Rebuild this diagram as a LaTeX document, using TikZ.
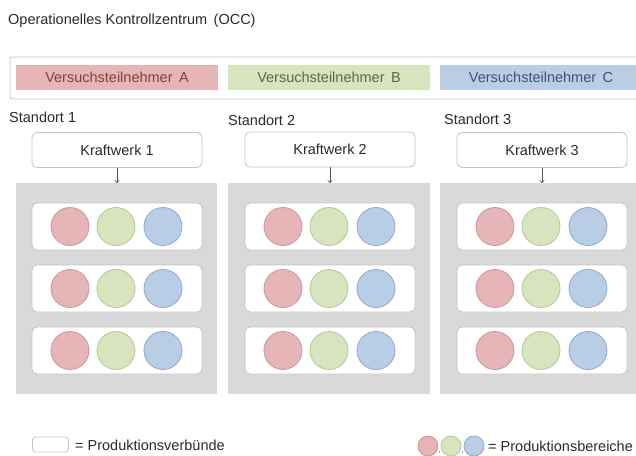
\documentclass[tikz,border=0pt]{standalone}
\usepackage{fontspec}
\setmainfont{Liberation Sans}
\usetikzlibrary{arrows.meta}
\definecolor{txt}{HTML}{2A2A2A}
\definecolor{boxgray}{HTML}{C4C4C4}
\definecolor{panelgray}{HTML}{D9D9D9}
\definecolor{redfill}{HTML}{E6B5B7}
\definecolor{redline}{HTML}{CE9597}
\definecolor{redtxt}{HTML}{84403F}
\definecolor{greenfill}{HTML}{D7E4BD}
\definecolor{greenline}{HTML}{B5C891}
\definecolor{greentxt}{HTML}{5A6946}
\definecolor{bluefill}{HTML}{B9CDE5}
\definecolor{blueline}{HTML}{8DA8D0}
\definecolor{bluetxt}{HTML}{3F5475}
\tikzset{
  lbl/.style={text=txt, inner sep=0pt, anchor=west},
  wbox/.style={draw=boxgray, fill=white, rounded corners=5pt, line width=0.8pt, text=txt, inner sep=0pt},
  occbox/.style={draw=boxgray, fill=white, line width=0.8pt, rounded corners=2pt, inner sep=0pt},
  bar/.style={minimum width=202pt, minimum height=25pt, inner sep=0pt},
  panel/.style={fill=panelgray, draw=none, inner sep=0pt, minimum height=211pt},
  rowbox/.style={wbox, minimum width=170pt, minimum height=47pt},
  kwbox/.style={wbox, minimum width=170pt, minimum height=35pt},
  circ/.style={circle, minimum size=38pt, inner sep=0pt, line width=0.8pt},
  circA/.style={circ, fill=redfill, draw=redline},
  circB/.style={circ, fill=greenfill, draw=greenline},
  circC/.style={circ, fill=bluefill, draw=blueline},
  arr/.style={draw=txt!80, line width=0.6pt, -{To[length=3pt,width=5pt]}},
}
\begin{document}
\begin{tikzpicture}[x=1pt,y=-1pt,font=\fontsize{14.5}{16}\selectfont]
\useasboundingbox (0,0) rectangle (636,455);
\clip (0,0) rectangle (636,455);
% title
\node[lbl] (title) at (8,21) {Operationelles Kontrollzentrum\, (OCC)};
% OCC box and bars
\node[occbox, minimum width=662pt, minimum height=42pt] (occ) at (341,78) {};
\node[bar, fill=redfill, text=redtxt] (vA) at (117,77.5) {Versuchsteilnehmer\, A};
\node[bar, fill=greenfill, text=greentxt] (vB) at (329,77.5) {Versuchsteilnehmer\, B};
\node[bar, fill=bluefill, text=bluetxt] (vC) at (541,77.5) {Versuchsteilnehmer\, C};
% Standort labels
\node[lbl] (s1) at (9,117) {Standort 1};
\node[lbl] (s2) at (228,120) {Standort 2};
\node[lbl] (s3) at (444,119) {Standort 3};
% Kraftwerke
\node[kwbox] (kw1) at (117,150) {Kraftwerk 1};
\node[kwbox] (kw2) at (330,149.5) {Kraftwerk 2};
\node[kwbox] (kw3) at (542,150) {Kraftwerk 3};
% panels
\node[panel, minimum width=201pt, anchor=north west] (p1) at (16,183) {};
\node[panel, minimum width=202pt, anchor=north west] (p2) at (228,183) {};
\node[panel, minimum width=204pt, anchor=north west] (p3) at (440,183) {};
% arrows
\draw[arr] (kw1.south) -- (kw1.south |- p1.north);
\draw[arr] (kw2.south) -- (kw2.south |- p2.north);
\draw[arr] (kw3.south) -- (kw3.south |- p3.north);
% rows and circles
\foreach \p/\px in {1/32,2/245,3/457} {
  \foreach \r/\ry in {1/226.5,2/288.5,3/350.5} {
    \node[rowbox] (row\p\r) at (\px+85,\ry) {};
    \node[circA] (ca\p\r) at (\px+38,\ry) {};
    \node[circB] (cb\p\r) at (\px+84,\ry) {};
    \node[circC] (cc\p\r) at (\px+131,\ry) {};
  }
}
% legend
\node[wbox, rounded corners=3pt, minimum width=36pt, minimum height=15pt] (lgbox) at (50.5,444.5) {};
\node[lbl] (lgtxt1) at (75,445) {= Produktionsverbünde};
\node[circA, minimum size=20pt] (lga) at (428,446) {};
\node[circB, minimum size=20pt] (lgb) at (451,446) {};
\node[circC, minimum size=20pt] (lgc) at (474,446) {};
\node[text=txt, inner sep=0pt, font=\fontsize{7}{8}\selectfont] (cm1) at (439.5,453) {,};
\node[text=txt, inner sep=0pt, font=\fontsize{7}{8}\selectfont] (cm2) at (462.5,453) {,};
\node[lbl] (lgtxt2) at (488,446) {= Produktionsbereiche};
\end{tikzpicture}
\end{document}
